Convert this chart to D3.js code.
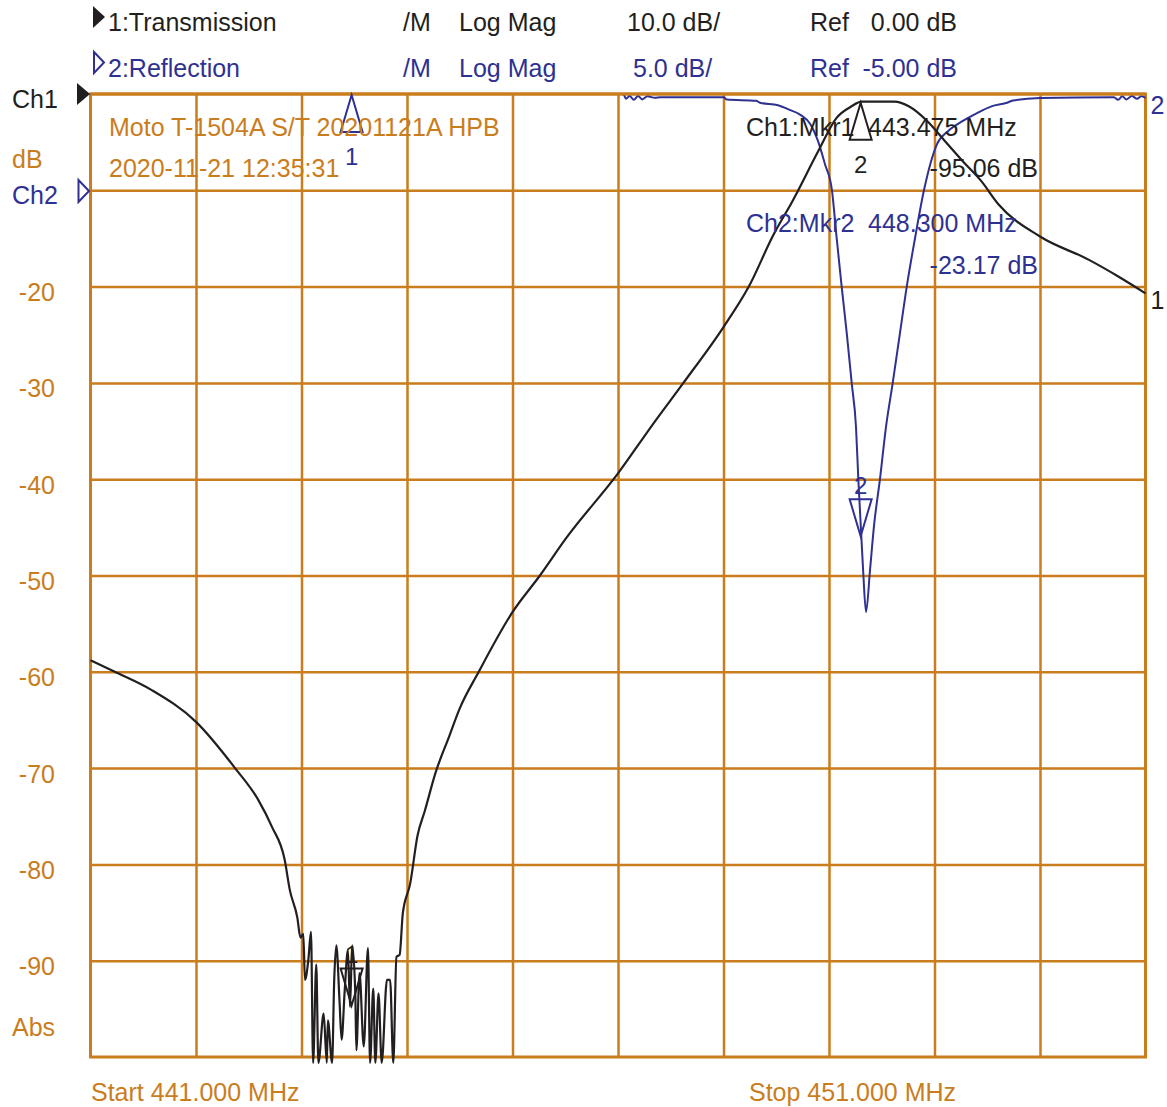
<!DOCTYPE html>
<html lang="en">
<head>
  <meta charset="utf-8">
  <title>Moto T-1504A S/T</title>
  <script src="https://d3js.org/d3.v7.min.js"></script>
  <style>
  body { margin: 0; background: #fff; }
  text { font-family: "Liberation Sans", Arial, sans-serif; font-size: 25px; }
  </style>
</head>
<body>
<div id="chart"></div>
<script>
// Ch1 transmission trace (MHz, dB)
var tranFreq = [441.00,441.23,441.58,442.00,442.37,442.59,442.72,442.84,442.89,442.96,442.99,
  443.017,443.033,443.065,443.09,443.11,443.14,443.16,443.21,443.24,443.25,443.29,443.31,443.33,443.36,443.38,
  443.41,443.44,443.46,443.48,443.51,443.52,443.55,443.59,443.63,443.65,443.68,443.70,443.73,443.76,443.81,
  443.84,443.87,443.90,443.93,443.96,
  444.03,444.10,444.17,444.27,444.40,444.50,444.68,445.00,445.26,445.51,446.00,446.33,446.62,447.00,447.24,
  447.47,447.66,447.90,448.07,448.21,448.31,448.62,448.76,448.93,449.10,449.27,449.44,449.61,450.00,
  450.46,450.75,451.00];
var tranDb = [-58.8,-60.0,-61.9,-65.2,-70.0,-73.3,-76.1,-79.5,-82.7,-85.5,-87.6,
  -87.2,-92.0,-89.9,-87.0,-100.6,-90.4,-100.6,-95.5,-100.6,-96.2,-100.6,-92.0,-88.4,-94.1,-98.2,
  -93.0,-88.9,-94.8,-88.4,-93.4,-99.3,-91.3,-98.9,-88.7,-100.6,-92.9,-100.6,-93.4,-100.6,-92.0,
  -92.0,-100.6,-89.6,-89.4,-85.1,
  -82,-77,-74.4,-70.5,-66.7,-63.8,-60,-53.8,-50,-46.1,-39.4,-34.3,-30,-24.2,-20,
  -14.7,-11.0,-5.9,-2.5,-1.3,-0.8,-0.8,-1.3,-2.8,-4.9,-7.0,-9.0,-11.5,-14.8,
  -17.2,-19.0,-20.7];

// Ch2 reflection trace (MHz, dB)
var reflFreq = [441.0,446.05,446.076,446.11,446.15,446.19,446.23,446.28,446.35,446.40,
  447.0,447.033,447.308,447.346,447.517,447.621,447.725,447.825,447.896,447.962,
  448.028,448.073,448.12,448.168,448.215,448.256,448.278,448.303,448.325,448.351,
  448.389,448.427,448.483,448.540,448.604,448.673,448.737,448.815,448.90,449.024,
  449.128,449.265,449.403,449.540,449.678,449.744,450.0,450.701,450.74,450.78,
  450.82,450.87,450.92,450.96,451.0];
var reflDb = [0,0,-0.25,-0.1,-0.3,-0.1,-0.28,-0.12,-0.2,-0.17,
  -0.17,-0.29,-0.35,-0.45,-0.58,-0.81,-1.07,-1.58,-2.45,-3.65,
  -5.0,-7.5,-10.0,-12.4,-15.0,-17.3,-20.0,-22.6,-24.9,-26.9,
  -24.7,-22.4,-20.0,-17.3,-15.0,-12.4,-10.0,-7.5,-5.0,-2.6,
  -1.93,-1.41,-0.99,-0.64,-0.47,-0.34,-0.21,-0.17,-0.3,-0.12,
  -0.28,-0.1,-0.25,-0.12,-0.2];

// markers
var mkrFreq = [443.475, 448.300];
var mkrCh1Db = [-95.06, -0.8];
var mkrCh2Db = [0.0, -23.17];

// tick labels on the left
var yTicks = [-20,-30,-40,-50,-60,-70,-80,-90];

var orange = "#C97D1D", blue = "#2E3192", black = "#231F20";

var W = 1167, H = 1107;
var margin = {top: 94, right: 21.5, bottom: 50, left: 90.5},
    width = W - margin.left - margin.right,
    height = H - margin.top - margin.bottom;

var svg = d3.select("#chart").append("svg")
  .attr("width", W).attr("height", H);

var g = svg.append("g")
  .attr("transform", "translate(" + margin.left + "," + margin.top + ")");

var x = d3.scaleLinear().domain([441, 451]).range([0, width]);
var y1 = d3.scaleLinear().domain([0, -100]).range([0, height]);   // 10 dB/div, ref 0
var y2 = d3.scaleLinear().domain([0, -50]).range([0, height]);    // 5 dB/div

// grid
var gx = g.append("g")
  .attr("transform", "translate(0," + height + ")")
  .call(d3.axisBottom(x).tickValues(d3.range(442, 451)).tickSize(height).tickFormat(""));
gx.select(".domain").remove();
gx.selectAll("line").attr("y1", -height).attr("y2", 0)
  .attr("stroke", orange).attr("stroke-width", 2.5);

var gy = g.append("g")
  .call(d3.axisLeft(y1).tickValues(d3.range(-10, -100, -10)).tickSize(-width)
    .tickPadding(35.5)
    .tickFormat(function(d) { return yTicks.indexOf(d) >= 0 ? d : ""; }));
gy.select(".domain").remove();
gy.selectAll("line").attr("stroke", orange).attr("stroke-width", 2.5);
gy.selectAll("text")
  .attr("fill", orange)
  .attr("dy", 14)
  .style("font-size", "25px")
  .style("font-family", "Liberation Sans, Arial, sans-serif");

g.append("rect")
  .attr("width", width).attr("height", height)
  .attr("fill", "none").attr("stroke", orange).attr("stroke-width", 3);

// traces
var tran = tranFreq.map(function(f, i) { return [f, tranDb[i]]; });
var refl = reflFreq.map(function(f, i) { return [f, reflDb[i]]; });

g.append("path")
  .datum(refl)
  .attr("d", d3.line().curve(d3.curveMonotoneX)
    .x(function(d) { return x(d[0]); }).y(function(d) { return y2(d[1]); }))
  .attr("fill", "none").attr("stroke", blue).attr("stroke-width", 2);

g.append("path")
  .datum(tran)
  .attr("d", d3.line().curve(d3.curveMonotoneX)
    .x(function(d) { return x(d[0]); }).y(function(d) { return y1(d[1]); }))
  .attr("fill", "none").attr("stroke", black).attr("stroke-width", 2.2)
  .attr("stroke-linejoin", "round");

// top edge over the traces
g.append("line").attr("x1", 0).attr("x2", width).attr("y1", 0).attr("y2", 0)
  .attr("stroke", orange).attr("stroke-width", 3);

// marker triangles
function drawMarker(cx, py, label, color) {
  var up = py < 40;
  var w = 11, h = 37, tip, base, ly;
  if (up) {
    tip = py + 1; base = tip + h; ly = base + 33;
  } else {
    tip = py - 4; base = tip - h; ly = base - 5;
  }
  g.append("path")
    .attr("d", "M" + cx + "," + tip + "L" + (cx - w) + "," + base + "L" + (cx + w) + "," + base + "Z")
    .attr("fill", "none").attr("stroke", color).attr("stroke-width", 2);
  g.append("text").attr("x", cx).attr("y", ly)
    .attr("text-anchor", "middle").attr("fill", color).style("font-size", "24px")
    .text(label);
}
mkrFreq.forEach(function(f, i) {
  drawMarker(x(f), y2(mkrCh2Db[i]), i + 1, blue);
  drawMarker(x(f), y1(mkrCh1Db[i]), i + 1, black);
});

// trace end labels
g.append("text").attr("x", width + 5).attr("y", y2(reflDb[reflDb.length - 1]) + 16)
  .attr("fill", blue).text("2");
g.append("text").attr("x", width + 5).attr("y", y1(tranDb[tranDb.length - 1]) + 16)
  .attr("fill", black).text("1");

// header
function txt(px, py, s, color, anchor) {
  svg.append("text").attr("x", px).attr("y", py).attr("fill", color)
    .attr("text-anchor", anchor || "start").text(s);
}
svg.append("path").attr("d", "M93,6L105,17L93,28Z").attr("fill", black);
txt(108, 31, "1:Transmission", black);
txt(403, 31, "/M", black);
txt(459, 31, "Log Mag", black);
txt(627, 31, "10.0 dB/", black);
txt(810, 31, "Ref", black);
txt(957, 31, "0.00 dB", black, "end");

svg.append("path").attr("d", "M94,52L104,62.5L94,73Z").attr("fill", "none")
  .attr("stroke", blue).attr("stroke-width", 2);
txt(108, 77, "2:Reflection", blue);
txt(403, 77, "/M", blue);
txt(459, 77, "Log Mag", blue);
txt(633, 77, "5.0 dB/", blue);
txt(810, 77, "Ref", blue);
txt(957, 77, "-5.00 dB", blue, "end");

// left side labels
svg.append("path").attr("d", "M77,83L90,94L77,105Z").attr("fill", black);
txt(12, 108, "Ch1", black);
txt(12, 168, "dB", orange);
svg.append("path").attr("d", "M78.5,180L89,191L78.5,202Z").attr("fill", "none")
  .attr("stroke", blue).attr("stroke-width", 2);
txt(12, 204, "Ch2", blue);
txt(12, 1036, "Abs", orange);

// annotations
txt(109, 136, "Moto T-1504A S/T 20201121A HPB", orange);
txt(109, 177, "2020-11-21 12:35:31", orange);

txt(746, 136, "Ch1:Mkr1", black);
txt(868, 136, "443.475 MHz", black);
txt(1038, 177, "-95.06 dB", black, "end");
txt(746, 232, "Ch2:Mkr2", blue);
txt(868, 232, "448.300 MHz", blue);
txt(1038, 274, "-23.17 dB", blue, "end");

txt(91, 1101, "Start 441.000 MHz", orange);
txt(749, 1101, "Stop 451.000 MHz", orange);
</script>
</body>
</html>
